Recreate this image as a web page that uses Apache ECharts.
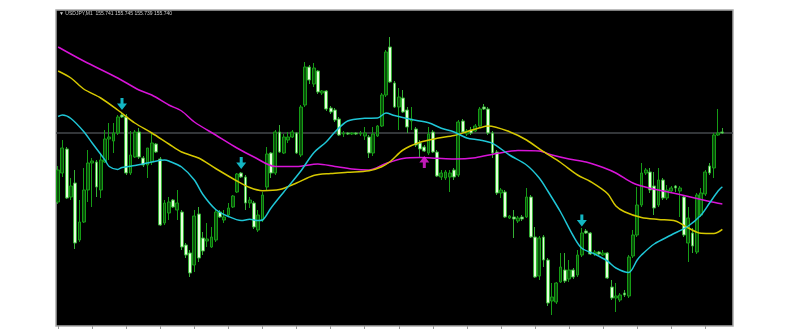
<!DOCTYPE html>
<html><head><meta charset="utf-8">
<script src="https://cdn.jsdelivr.net/npm/echarts/dist/echarts.min.js"></script>
<style>html,body{margin:0;padding:0;background:#fff;}#c{width:790px;height:336px;}</style>
</head><body><div id="c"></div>
<script>
const symbolName = 'USDJPY,M1';
const headerValues = ['155.741', '155.745', '155.739', '155.740'];
const lastPrice = 155.740;
const slotCount = 159; // 157 bars + 2 empty slots on the right

const opens = [
155.671,155.700,155.724,155.676,155.690,155.633,155.651,155.683,155.710,155.711,
155.683,155.711,155.734,155.732,155.740,155.758,155.756,155.700,155.716,155.741,
155.715,155.708,155.711,155.729,155.714,155.650,155.660,155.673,155.663,155.661,
155.628,155.620,155.608,155.659,155.635,155.632,155.626,155.633,155.661,155.653,
155.658,155.666,155.681,155.700,155.696,155.670,155.670,155.643,155.653,155.686,
155.720,155.700,155.741,155.720,155.733,155.736,155.740,155.718,155.768,155.806,
155.789,155.802,155.780,155.782,155.765,155.763,155.754,155.739,155.740,155.739,
155.740,155.739,155.737,155.736,155.720,155.737,155.747,155.778,155.826,155.790,
155.766,155.775,155.763,155.752,155.744,155.730,155.726,155.720,155.741,155.721,
155.696,155.695,155.696,155.703,155.698,155.752,155.739,155.743,155.742,155.747,
155.766,155.764,155.740,155.721,155.680,155.681,155.655,155.656,155.652,155.656,
155.656,155.676,155.636,155.597,155.636,155.613,155.572,155.571,155.591,155.603,
155.594,155.603,155.598,155.618,155.642,155.640,155.619,155.621,155.618,155.620,
155.586,155.575,155.573,155.580,155.577,155.617,155.638,155.668,155.700,155.701,
155.687,155.668,155.693,155.675,155.682,155.687,155.682,155.676,155.630,155.640,
155.621,155.658,155.679,155.707,155.705,155.738,155.741];
const closes = [
155.703,155.725,155.675,155.687,155.630,155.651,155.683,155.710,155.712,155.686,
155.713,155.734,155.736,155.740,155.756,155.756,155.700,155.718,155.741,155.716,
155.708,155.725,155.730,155.721,155.648,155.670,155.671,155.666,155.670,155.626,
155.618,155.600,155.657,155.615,155.622,155.634,155.636,155.661,155.656,155.656,
155.665,155.677,155.699,155.696,155.670,155.673,155.646,155.658,155.678,155.719,
155.700,155.741,155.721,155.736,155.736,155.741,155.720,155.766,155.806,155.793,
155.805,155.781,155.782,155.764,155.761,155.753,155.738,155.740,155.739,155.740,
155.739,155.740,155.740,155.720,155.739,155.747,155.778,155.821,155.791,155.766,
155.776,155.761,155.746,155.754,155.728,155.724,155.722,155.739,155.721,155.697,
155.700,155.701,155.700,155.696,155.751,155.741,155.742,155.740,155.747,155.764,
155.764,155.740,155.720,155.680,155.683,155.656,155.657,155.654,155.655,155.654,
155.676,155.636,155.596,155.635,155.613,155.570,155.576,155.590,155.606,155.592,
155.603,155.596,155.618,155.640,155.640,155.619,155.621,155.619,155.620,155.595,
155.575,155.577,155.578,155.578,155.616,155.638,155.668,155.700,155.703,155.683,
155.665,155.693,155.675,155.683,155.685,155.685,155.685,155.638,155.655,155.627,
155.678,155.680,155.701,155.700,155.738,155.740,155.740];
const lows = [
155.669,155.696,155.674,155.673,155.624,155.631,155.650,155.671,155.666,155.676,
155.675,155.710,155.713,155.720,155.738,155.755,155.698,155.698,155.715,155.714,
155.706,155.695,155.708,155.720,155.647,155.648,155.653,155.665,155.653,155.623,
155.615,155.596,155.601,155.611,155.618,155.626,155.625,155.631,155.655,155.650,
155.656,155.665,155.680,155.695,155.663,155.665,155.644,155.641,155.651,155.683,
155.695,155.698,155.720,155.719,155.730,155.735,155.719,155.716,155.766,155.789,
155.786,155.779,155.778,155.762,155.759,155.751,155.737,155.736,155.738,155.738,
155.738,155.737,155.733,155.715,155.717,155.736,155.746,155.776,155.790,155.765,
155.743,155.760,155.740,155.743,155.726,155.716,155.721,155.718,155.720,155.696,
155.693,155.693,155.681,155.693,155.696,155.740,155.737,155.738,155.741,155.746,
155.763,155.738,155.715,155.678,155.675,155.655,155.654,155.635,155.650,155.652,
155.655,155.635,155.595,155.593,155.606,155.567,155.558,155.569,155.590,155.590,
155.591,155.594,155.596,155.616,155.639,155.618,155.617,155.618,155.617,155.594,
155.573,155.561,155.571,155.576,155.575,155.615,155.636,155.666,155.698,155.680,
155.658,155.666,155.673,155.673,155.680,155.681,155.656,155.636,155.611,155.620,
155.619,155.656,155.677,155.698,155.695,155.737,155.739];
const highs = [
155.707,155.733,155.726,155.695,155.703,155.673,155.705,155.723,155.715,155.713,
155.720,155.743,155.750,155.750,155.758,155.760,155.759,155.742,155.743,155.745,
155.717,155.725,155.740,155.730,155.716,155.673,155.676,155.674,155.683,155.663,
155.630,155.623,155.663,155.666,155.641,155.650,155.646,155.663,155.663,155.663,
155.670,155.678,155.700,155.701,155.698,155.676,155.672,155.663,155.681,155.726,
155.721,155.743,155.748,155.739,155.741,155.743,155.741,155.768,155.811,155.808,
155.810,155.803,155.783,155.783,155.767,155.765,155.756,155.742,155.741,155.741,
155.741,155.742,155.746,155.738,155.746,155.748,155.780,155.823,155.836,155.792,
155.785,155.783,155.766,155.766,155.746,155.733,155.728,155.746,155.743,155.723,
155.703,155.703,155.703,155.705,155.753,155.754,155.744,155.746,155.749,155.766,
155.769,155.766,155.742,155.723,155.685,155.683,155.658,155.663,155.657,155.658,
155.685,155.678,155.646,155.637,155.638,155.615,155.590,155.591,155.620,155.620,
155.613,155.605,155.623,155.645,155.644,155.641,155.623,155.622,155.623,155.621,
155.593,155.590,155.580,155.583,155.618,155.643,155.686,155.710,155.705,155.705,
155.701,155.705,155.695,155.688,155.687,155.688,155.687,155.678,155.666,155.645,
155.680,155.685,155.703,155.710,155.740,155.764,155.745];

// moving averages read at bar positions: [barIndex, price]
const maCyan = [[0,155.7565],[1,155.758],[3,155.7545],[6,155.7415],[8,155.730],[11,155.713],[12,155.7065],[14,155.7035],[15,155.7055],[18,155.7075],[20,155.709],[22,155.711],[25,155.713],[26,155.712],[29,155.706],[32,155.693],[34,155.6785],[37,155.6635],[40,155.6565],[43,155.6525],[45,155.6537],[47,155.6525],[48,155.653],[50,155.665],[53,155.681],[57,155.702],[60,155.720],[63,155.7313],[65,155.741],[68,155.752],[72,155.7547],[75,155.755],[77,155.760],[79,155.7575],[83,155.7535],[87,155.7503],[90,155.7447],[93,155.741],[96,155.735],[99,155.733],[102,155.7297],[106,155.718],[110,155.708],[113,155.695],[115,155.682],[118,155.661],[121,155.637],[123,155.6247],[126,155.619],[129,155.612],[131,155.605],[134,155.6005],[136,155.613],[137,155.618],[140,155.629],[144,155.638],[148,155.647],[151,155.658],[153,155.670],[155,155.682],[156,155.6863]];
const maYellow = [[0,155.802],[3,155.795],[6,155.784],[10,155.775],[14,155.763],[18,155.750],[22,155.740],[26,155.729],[29,155.721],[33,155.715],[37,155.7045],[42,155.692],[45,155.6855],[48,155.6823],[52,155.6834],[56,155.690],[60,155.6975],[64,155.6995],[68,155.7007],[73,155.7023],[76,155.7063],[78,155.7115],[81,155.723],[85,155.7307],[89,155.7347],[93,155.7375],[96,155.7413],[99,155.7452],[101,155.747],[106,155.7413],[110,155.733],[114,155.7213],[118,155.7105],[122,155.698],[125,155.6915],[129,155.6795],[131,155.667],[133,155.6613],[137,155.6555],[141,155.6535],[145,155.652],[148,155.645],[151,155.6397],[154,155.6395],[156,155.6437]];
const maMagenta = [[0,155.826],[6,155.812],[14,155.795],[19,155.783],[22,155.778],[26,155.768],[29,155.762],[32,155.751],[37,155.738],[42,155.725],[46,155.716],[51,155.7065],[56,155.7065],[61,155.709],[65,155.7065],[69,155.704],[73,155.703],[77,155.7095],[81,155.7145],[85,155.7155],[89,155.7147],[93,155.714],[98,155.7153],[103,155.7195],[108,155.7225],[113,155.722],[116,155.718],[120,155.714],[124,155.711],[128,155.7055],[131,155.700],[135,155.690],[139,155.6847],[143,155.6813],[147,155.6775],[151,155.6735],[155,155.6697],[156,155.669]];

// signal arrows: [barIndex, price]
const sellArrows = [[15,155.769],[43,155.710],[123,155.6525]];
const buyArrows = [[86,155.711]];

const slots = Array.from({length: slotCount}, (_, i) => String(i));
const candles = opens.map((o, i) => [o, closes[i], lows[i], highs[i]]);
const tickEvery = (i) => i % 8 === 0;

const chart = echarts.init(document.getElementById('c'), null, {renderer: 'canvas'});
chart.setOption({
  animation: false,
  backgroundColor: '#ffffff',
  grid: {left: 56, right: 57, top: 10, bottom: 10, show: true, backgroundColor: '#000000', borderColor: '#a8a8a8', borderWidth: 1.5},
  xAxis: [
    {type: 'category', data: slots, boundaryGap: true,
     axisLine: {show: false},
     axisLabel: {show: false, interval: tickEvery},
     axisTick: {show: true, interval: tickEvery, alignWithLabel: true, length: 3, lineStyle: {color: '#9a9a9a'}},
     splitLine: {show: false}},
    {type: 'value', min: -0.5, max: slotCount - 0.5, show: false}
  ],
  yAxis: {type: 'value', min: 155.547, max: 155.863, show: false},
  graphic: [
    {type: 'text', left: 59, top: 11.5, z: 10,
     style: {text: '\u25BC ' + symbolName + '  ' + headerValues.join(' '), fill: '#cfcfcf', font: '5px "Liberation Sans"'}}
  ],
  series: [
    {type: 'line', xAxisIndex: 1, data: [[-0.5, lastPrice], [slotCount - 0.5, lastPrice]], symbol: 'none', silent: true,
     lineStyle: {color: '#44484c', width: 1.5}, z: 1},
    {type: 'candlestick', xAxisIndex: 0, data: candles, barWidth: 3.3, z: 2,
     itemStyle: {color: '#0a4f0a', color0: '#e6ffdc', borderColor: '#169c16', borderColor0: '#35b035', borderWidth: 1}},
    {type: 'line', xAxisIndex: 1, data: maMagenta, symbol: 'none', smooth: 0.3, lineStyle: {color: '#d814d8', width: 1.5}, z: 3},
    {type: 'line', xAxisIndex: 1, data: maYellow, symbol: 'none', smooth: 0.3, lineStyle: {color: '#d6c800', width: 1.5}, z: 3},
    {type: 'line', xAxisIndex: 1, data: maCyan, symbol: 'none', smooth: 0.3, lineStyle: {color: '#1fc6d6', width: 1.5}, z: 3},
    {type: 'scatter', xAxisIndex: 1, data: sellArrows, symbol: 'path://M3.5,0H6.5V5.5H10L5,12L0,5.5H3.5Z', symbolSize: [10, 12],
     itemStyle: {color: '#18e4f4'}, z: 5},
    {type: 'scatter', xAxisIndex: 1, data: buyArrows, symbol: 'path://M5,0L10,6.5H6.5V12H3.5V6.5H0Z', symbolSize: [10, 12],
     itemStyle: {color: '#f020e6'}, z: 5}
  ]
});
</script>
</body></html>
